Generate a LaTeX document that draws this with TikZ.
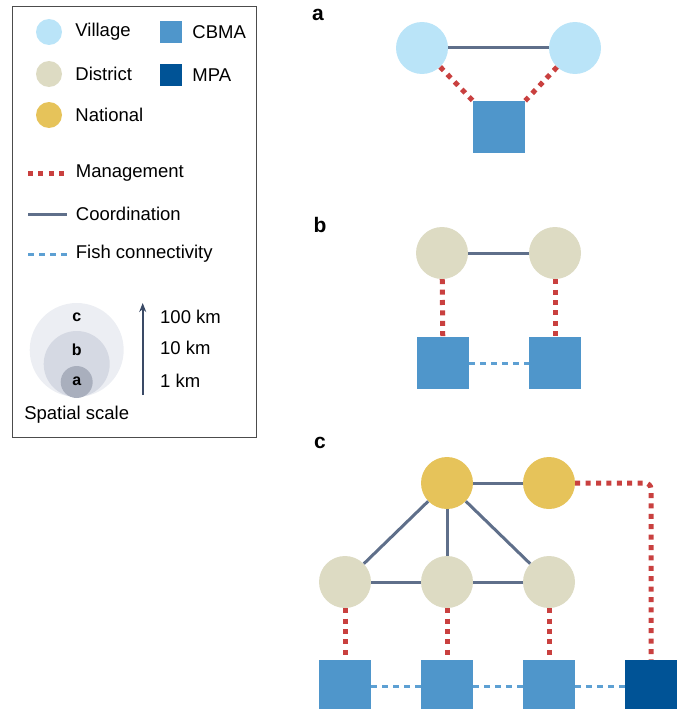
\documentclass[tikz,border=0pt]{standalone}
\usepackage{fontspec}
\setmainfont{Liberation Sans}
\usetikzlibrary{arrows.meta,positioning}

\definecolor{villagec}{HTML}{BAE4F8}
\definecolor{districtc}{HTML}{DDDBC3}
\definecolor{nationalc}{HTML}{E6C35A}
\definecolor{cbmac}{HTML}{4F96CB}
\definecolor{mpac}{HTML}{005396}
\definecolor{mgmtc}{HTML}{C9403F}
\definecolor{coordc}{HTML}{5F6F8A}
\definecolor{fishc}{HTML}{5DA0D3}
\definecolor{scalec}{HTML}{ECEEF3}
\definecolor{scaleb}{HTML}{D5D9E3}
\definecolor{scalea}{HTML}{A9AFBD}
\definecolor{arrowc}{HTML}{3A4A66}

\begin{document}
\begin{tikzpicture}[
  x=1pt, y=-1pt,
  every node/.style={font=\fontsize{18.5}{20}\selectfont},
  unit/.style={circle, minimum size=52pt, inner sep=0pt},
  area/.style={rectangle, minimum size=52pt, inner sep=0pt},
  keyunit/.style={circle, minimum size=26pt, inner sep=0pt},
  keyarea/.style={rectangle, minimum size=22pt, inner sep=0pt},
  mgmt/.style={draw=mgmtc, line width=5pt, dash pattern=on 5pt off 5.4pt},
  coord/.style={draw=coordc, line width=3pt},
  fish/.style={draw=fishc, line width=3pt, dash pattern=on 5.5pt off 5.5pt},
  lbl/.style={anchor=west, inner sep=0pt},
  panel/.style={font=\fontsize{21}{23}\selectfont\bfseries, inner sep=0pt},
  scalelbl/.style={font=\fontsize{16}{18}\selectfont\bfseries, inner sep=0pt}
]
\useasboundingbox (0,0) rectangle (681,709);

% 凡例
\draw[black!70, line width=1pt] (12,7) rectangle (256,437);
\node[keyunit, fill=villagec] (kv) at (49,32) {};
\node[keyunit, fill=districtc] (kd) at (49,74) {};
\node[keyunit, fill=nationalc] (kn) at (49,115) {};
\node[keyarea, fill=cbmac] (kc) at (171,32) {};
\node[keyarea, fill=mpac] (km) at (171,75) {};
\node[lbl, right=13pt of kv] {Village};
\node[lbl, right=13pt of kd] {District};
\node[lbl, right=13pt of kn] {National};
\node[lbl, right=10pt of kc] {CBMA};
\node[lbl, right=10pt of km] {MPA};

\coordinate (km1) at (28,173);
\coordinate (km2) at (67,173);
\coordinate (kc1) at (28,214);
\coordinate (kc2) at (67,214);
\coordinate (kf1) at (28,254);
\coordinate (kf2) at (67,254);
\draw[mgmt] (km1) -- (km2);
\draw[coord] (kc1) -- (kc2);
\draw[fish] (kf1) -- (kf2);
\node[lbl, right=8.7pt of km2] {Management};
\node[lbl, right=8.7pt of kc2] {Coordination};
\node[lbl, right=8.7pt of kf2] {Fish connectivity};

% 空間スケール
\node[circle, fill=scalec, minimum size=94pt, inner sep=0pt] (sc) at (76.7,350) {};
\node[circle, fill=scaleb, minimum size=66pt, inner sep=0pt] (sb) at (76.7,364) {};
\node[circle, fill=scalea, minimum size=32pt, inner sep=0pt] (sa) at (76.7,382) {};
\node[scalelbl] at (76.7,317) {c};
\node[scalelbl] at (76.7,350) {b};
\node[scalelbl] at (76.7,381) {a};
\node (ssl) at (76.7,415) {Spatial scale};
\coordinate (ar1) at (142.7,395);
\coordinate (ar2) at (142.7,303);
\draw[arrowc, line width=2.2pt, -{Stealth[length=9pt,width=7pt]}] (ar1) -- (ar2);
\node[lbl] (s100) at (160,317) {100 km};
\node[lbl] (s10) at (160,348) {10 km};
\node[lbl] (s1) at (160,381) {1 km};

% パネル a
\node[panel] at (318,15) {a};
\node[unit, fill=villagec] (va1) at (422,48) {};
\node[unit, fill=villagec] (va2) at (575,48) {};
\node[area, fill=cbmac] (ca) at (499,127) {};
\draw[coord] (va1) -- (va2);
\draw[mgmt] (va1) -- (ca.north west);
\draw[mgmt] (va2) -- (ca.north east);

% パネル b
\node[panel] at (320,225) {b};
\node[unit, fill=districtc] (db1) at (442,253) {};
\node[unit, fill=districtc] (db2) at (555,253) {};
\node[area, fill=cbmac] (cb1) at (443,363) {};
\node[area, fill=cbmac] (cb2) at (555,363) {};
\draw[coord] (db1) -- (db2);
\draw[mgmt] (db1) -- (cb1);
\draw[mgmt] (db2) -- (cb2);
\draw[fish] (cb1) -- (cb2);

% パネル c
\node[panel] at (320,443) {c};
\node[unit, fill=nationalc] (nc1) at (447,483) {};
\node[unit, fill=nationalc] (nc2) at (549,483) {};
\node[unit, fill=districtc] (dc1) at (345,582) {};
\node[unit, fill=districtc] (dc2) at (447,582) {};
\node[unit, fill=districtc] (dc3) at (549,582) {};
\node[area, fill=cbmac] (cc1) at (345,686) {};
\node[area, fill=cbmac] (cc2) at (447,686) {};
\node[area, fill=cbmac] (cc3) at (549,686) {};
\node[area, fill=mpac] (mc) at (651,686) {};
\draw[coord] (nc1) -- (nc2);
\draw[coord] (nc1) -- (dc1);
\draw[coord] (nc1) -- (dc2);
\draw[coord] (nc1) -- (dc3);
\draw[coord] (dc1) -- (dc2);
\draw[coord] (dc2) -- (dc3);
\draw[mgmt] (dc1) -- (cc1);
\draw[mgmt] (dc2) -- (cc2);
\draw[mgmt] (dc3) -- (cc3);
\draw[mgmt, rounded corners=6pt] (nc2) -- (nc2 -| mc) -- (mc);
\draw[fish] (cc1) -- (cc2);
\draw[fish] (cc2) -- (cc3);
\draw[fish] (cc3) -- (mc);

\end{tikzpicture}
\end{document}
